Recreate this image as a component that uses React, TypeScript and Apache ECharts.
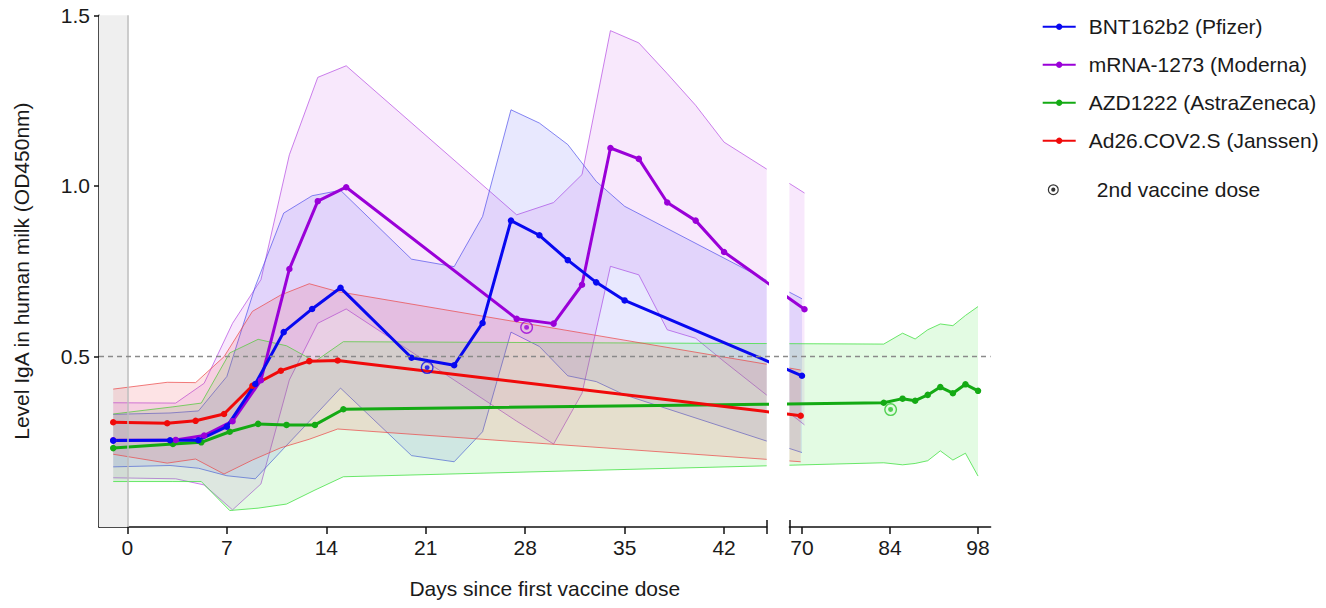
import React, { useEffect, useRef } from 'react';
import * as echarts from 'echarts';

// ---------- data ----------
const xTicksLeft = [0, 7, 14, 21, 28, 35, 42];
const xTicksRight = [70, 84, 98];
const yTicks = [0.5, 1.0, 1.5];

const pfizerDays = [-1, 3, 5, 7, 9, 11, 13, 15, 20, 23, 25, 27, 29, 31, 33, 35, 70];
const pfizerMean = [0.253, 0.254, 0.254, 0.294, 0.419, 0.571, 0.639, 0.701, 0.496, 0.474, 0.598, 0.898, 0.855, 0.782, 0.717, 0.664, 0.443];
const pfizerUpper = [0.33, 0.334, 0.34, 0.441, 0.705, 0.92, 0.971, 0.987, 0.785, 0.763, 0.91, 1.223, 1.184, 1.121, 1.013, 0.94, 0.669];
const pfizerLower = [0.176, 0.18, 0.172, 0.15, 0.141, 0.23, 0.318, 0.407, 0.209, 0.191, 0.279, 0.571, 0.529, 0.443, 0.426, 0.387, 0.218];

const modernaDays = [-1, 3.4, 5.4, 7.4, 9.4, 11.4, 13.4, 15.4, 27.4, 30, 32, 34, 36, 38, 40, 42, 70.4];
const modernaMean = [0.254, 0.255, 0.268, 0.31, 0.43, 0.756, 0.955, 0.996, 0.61, 0.596, 0.71, 1.111, 1.079, 0.951, 0.898, 0.806, 0.638];
const modernaUpper = [0.364, 0.363, 0.421, 0.597, 0.725, 1.091, 1.318, 1.352, 0.915, 0.951, 1.033, 1.455, 1.419, 1.329, 1.236, 1.128, 0.979];
const modernaLower = [0.144, 0.141, 0.123, 0.05, 0.126, 0.431, 0.597, 0.639, 0.31, 0.243, 0.392, 0.764, 0.739, 0.578, 0.553, 0.485, 0.299];

const azDays = [-1, 3.2, 5.2, 7.2, 9.2, 11.2, 13.2, 15.2, 83, 86, 88, 90, 92, 94, 96, 98];
const azMean = [0.231, 0.243, 0.248, 0.279, 0.302, 0.299, 0.299, 0.345, 0.364, 0.376, 0.37, 0.387, 0.41, 0.392, 0.418, 0.399];
const azUpper = [0.331, 0.352, 0.363, 0.51, 0.55, 0.531, 0.485, 0.543, 0.536, 0.568, 0.551, 0.578, 0.595, 0.59, 0.62, 0.646];
const azLower = [0.133, 0.133, 0.133, 0.048, 0.055, 0.067, 0.108, 0.147, 0.188, 0.182, 0.186, 0.194, 0.223, 0.196, 0.216, 0.149];

const janssenDays = [-1, 2.8, 4.8, 6.8, 8.8, 10.8, 12.8, 14.8, 69.8];
const janssenMean = [0.307, 0.304, 0.311, 0.331, 0.414, 0.458, 0.486, 0.488, 0.326];
const janssenUpper = [0.404, 0.424, 0.423, 0.499, 0.632, 0.68, 0.713, 0.69, 0.46];
const janssenLower = [0.213, 0.187, 0.199, 0.155, 0.196, 0.232, 0.257, 0.287, 0.191];

const dose2Keys = ['pfizer', 'moderna', 'az'];
const dose2Days = [21.1, 28.1, 84.1];
const dose2Values = [0.467, 0.585, 0.344];

const thresholdValue = 0.5;

// ---------- styling / layout ----------
const FONT = "'Liberation Sans', Arial, Helvetica, sans-serif";
const TEXT = '#1a1a1a';
const BLUE = '#0808f0';
const PURPLE = '#9a00d8';
const GREEN = '#14aa14';
const RED = '#f00a0a';

const L_MIN = -2, L_MAX = 45, R_MIN = 68, R_MAX = 100;
const GRID_TOP = 15.3, GRID_H = 511.6;
const L_LEFT = 99, L_W = 667.7;
const R_LEFT = 789.4, R_W = 201.2;
const pxL = L_W / (L_MAX - L_MIN);
const pxR = R_W / (R_MAX - R_MIN);
const U_GAP = (R_LEFT - (L_LEFT + L_W)) / pxL;
const uOf = (d: number) => (d <= L_MAX ? d : L_MAX + U_GAP + ((d - R_MIN) * pxR) / pxL);
const dayOf = (u: number) => (u <= L_MAX ? u : R_MIN + ((u - L_MAX - U_GAP) * pxL) / pxR);

const RING = 'path://M12,0A12,12 0 1 1 -12,0A12,12 0 1 1 12,0ZM9.4,0A9.4,9.4 0 1 0 -9.4,0A9.4,9.4 0 1 0 9.4,0ZM4.6,0A4.6,4.6 0 1 1 -4.6,0A4.6,4.6 0 1 1 4.6,0Z';

const vaccines = [
  { key: 'pfizer', name: 'BNT162b2 (Pfizer)', days: pfizerDays, mean: pfizerMean, upper: pfizerUpper, lower: pfizerLower, color: BLUE, fill: 'rgba(90,90,245,0.14)', stroke: 'rgba(70,70,235,0.65)' },
  { key: 'moderna', name: 'mRNA-1273 (Moderna)', days: modernaDays, mean: modernaMean, upper: modernaUpper, lower: modernaLower, color: PURPLE, fill: 'rgba(215,130,240,0.18)', stroke: 'rgba(185,85,228,0.75)' },
  { key: 'az', name: 'AZD1222 (AstraZeneca)', days: azDays, mean: azMean, upper: azUpper, lower: azLower, color: GREEN, fill: 'rgba(70,225,70,0.15)', stroke: 'rgba(70,225,70,0.8)' },
  { key: 'janssen', name: 'Ad26.COV2.S (Janssen)', days: janssenDays, mean: janssenMean, upper: janssenUpper, lower: janssenLower, color: RED, fill: 'rgba(240,70,80,0.15)', stroke: 'rgba(235,70,70,0.7)' },
];

const legendOrder = vaccines.map((v) => v.name);

function bandSeries(v: any, gi: number) {
  return {
    type: 'custom',
    name: v.name + ' band',
    xAxisIndex: gi === 0 ? 0 : 2,
    yAxisIndex: gi,
    silent: true,
    z: 1,
    data: v.days.map((d: number, i: number) => [uOf(d), v.lower[i], v.upper[i]]),
    encode: { x: 0, y: [1, 2] },
    renderItem: (params: any, api: any) => {
      if (params.dataIndex !== 0) return null;
      const up = v.days.map((d: number, i: number) => api.coord([uOf(d), v.upper[i]]));
      const dn = v.days.map((d: number, i: number) => api.coord([uOf(d), v.lower[i]]));
      const cs = params.coordSys;
      const clip = () => ({ type: 'rect', shape: { x: cs.x, y: cs.y, width: cs.width, height: cs.height } });
      return {
        type: 'group',
        children: [
          { type: 'polygon', shape: { points: up.concat(dn.slice().reverse()) }, style: { fill: v.fill, stroke: 'none' }, clipPath: clip() },
          { type: 'polyline', shape: { points: up }, style: { stroke: v.stroke, lineWidth: 1, fill: 'none' }, clipPath: clip() },
          { type: 'polyline', shape: { points: dn }, style: { stroke: v.stroke, lineWidth: 1, fill: 'none' }, clipPath: clip() },
        ],
      };
    },
  };
}

function meanSeries(v: any, gi: number) {
  return {
    type: 'line',
    name: v.name,
    xAxisIndex: gi === 0 ? 0 : 2,
    yAxisIndex: gi,
    data: v.days.map((d: number, i: number) => [uOf(d), v.mean[i]]),
    symbol: 'circle',
    symbolSize: 6.5,
    showSymbol: true,
    showAllSymbol: true,
    clip: true,
    lineStyle: { width: 3, color: v.color },
    itemStyle: { color: v.color },
    emphasis: { disabled: true },
    z: 4,
  };
}

const axisLineStyle = { color: '#111', width: 1.5 };
const labelStyle = { fontSize: 21, color: TEXT, fontFamily: FONT };

function buildOption() {
  const series: any[] = [];
  // grey pre-vaccination band + day-0 line
  series.push({
    type: 'line', name: 'baseline', xAxisIndex: 0, yAxisIndex: 0, data: [], silent: true, z: 0,
    markArea: { silent: true, itemStyle: { color: '#efefef' }, data: [[{ xAxis: L_MIN }, { xAxis: 0 }]] },
    markLine: { silent: true, symbol: ['none', 'none'], label: { show: false }, lineStyle: { color: '#bdbdbd', width: 1.5, type: 'solid' }, data: [{ xAxis: 0 }] },
  });
  // bands
  const bandOrder = [vaccines[1], vaccines[0], vaccines[2], vaccines[3]];
  for (const gi of [0, 1]) for (const v of bandOrder) series.push(bandSeries(v, gi));
  // dashed threshold
  series.push({
    type: 'line', name: 'threshold', xAxisIndex: 4, yAxisIndex: 2, data: [], silent: true, z: 3,
    markLine: { silent: true, symbol: ['none', 'none'], label: { show: false }, lineStyle: { color: '#8a8a8a', width: 1.3, type: [5, 4] }, data: [{ yAxis: thresholdValue }] },
  });
  // mean lines
  const lineOrder = [vaccines[2], vaccines[3], vaccines[1], vaccines[0]];
  for (const gi of [0, 1]) for (const v of lineOrder) series.push(meanSeries(v, gi));
  // 2nd dose markers
  dose2Keys.forEach((k, i) => {
    const v = vaccines.find((x) => x.key === k)!;
    const right = dose2Days[i] > L_MAX;
    series.push({
      type: 'scatter', name: '2nd dose ' + k, xAxisIndex: right ? 2 : 0, yAxisIndex: right ? 1 : 0,
      data: [[uOf(dose2Days[i]), dose2Values[i]]], symbol: RING, symbolSize: 13,
      itemStyle: { color: k === 'az' ? '#2cc52c' : v.color }, z: 6, silent: true,
    });
  });
  series.push({ type: 'scatter', name: '2nd vaccine dose', data: [], xAxisIndex: 0, yAxisIndex: 0, itemStyle: { color: '#000' }, symbol: RING });

  const hiddenY = (gridIndex: number) => ({ type: 'value', gridIndex, min: 0, max: 1.5, show: false });

  return {
    animation: false,
    backgroundColor: '#ffffff',
    textStyle: { fontFamily: FONT },
    grid: [
      { left: L_LEFT, top: GRID_TOP, width: L_W, height: GRID_H },
      { left: R_LEFT, top: GRID_TOP, width: R_W, height: GRID_H },
      { left: L_LEFT, top: GRID_TOP, width: R_LEFT + R_W - L_LEFT, height: GRID_H },
    ],
    xAxis: [
      {
        type: 'value', gridIndex: 0, min: L_MIN, max: L_MAX, position: 'bottom',
        axisLine: { show: true, onZero: false, lineStyle: axisLineStyle },
        axisTick: { show: true, length: 7, lineStyle: axisLineStyle, customValues: [...xTicksLeft, L_MAX] },
        axisLabel: { ...labelStyle, margin: 10, customValues: xTicksLeft },
        splitLine: { show: false },
      },
      {
        type: 'value', gridIndex: 0, min: L_MIN, max: L_MAX, position: 'bottom', offset: 0,
        axisLine: { show: false },
        axisTick: { show: true, inside: true, length: 7, lineStyle: axisLineStyle, customValues: [L_MAX] },
        axisLabel: { show: false }, splitLine: { show: false },
      },
      {
        type: 'value', gridIndex: 1, min: uOf(R_MIN), max: uOf(R_MAX), position: 'bottom',
        axisLine: { show: true, onZero: false, lineStyle: axisLineStyle },
        axisTick: { show: true, length: 7, lineStyle: axisLineStyle, customValues: [uOf(R_MIN), ...xTicksRight.map(uOf)] },
        axisLabel: { ...labelStyle, margin: 10, customValues: xTicksRight.map(uOf), formatter: (val: number) => String(Math.round(dayOf(val))) },
        splitLine: { show: false },
      },
      {
        type: 'value', gridIndex: 1, min: uOf(R_MIN), max: uOf(R_MAX), position: 'bottom', offset: 0,
        axisLine: { show: false },
        axisTick: { show: true, inside: true, length: 7, lineStyle: axisLineStyle, customValues: [uOf(R_MIN)] },
        axisLabel: { show: false }, splitLine: { show: false },
      },
      {
        type: 'value', gridIndex: 2, min: L_MIN, max: uOf(R_MAX), position: 'bottom',
        axisLine: { show: false }, axisTick: { show: false }, axisLabel: { show: false }, splitLine: { show: false },
        name: 'Days since first vaccine dose', nameLocation: 'middle', nameGap: 51,
        nameTextStyle: { fontSize: 21, color: TEXT, fontFamily: FONT },
      },
    ],
    yAxis: [
      {
        type: 'value', gridIndex: 0, min: 0, max: 1.5,
        axisLine: { show: true, onZero: false, lineStyle: axisLineStyle },
        axisTick: { show: true, length: 5, lineStyle: axisLineStyle, customValues: yTicks },
        axisLabel: { ...labelStyle, margin: 9, customValues: yTicks, formatter: (val: number) => val.toFixed(1) },
        splitLine: { show: false },
        name: 'Level IgA in human milk (OD450nm)', nameLocation: 'middle', nameGap: 67,
        nameTextStyle: { fontSize: 21, color: TEXT, fontFamily: FONT },
      },
      hiddenY(1),
      hiddenY(2),
    ],
    legend: [
      {
        data: legendOrder, orient: 'vertical', left: 1036.7, top: 11.2, itemWidth: 33, itemHeight: 8, itemGap: 17,
        selectedMode: false,
        textStyle: { fontSize: 21, color: TEXT, fontFamily: FONT, lineHeight: 21, padding: [0, 0, 0, 8] },
      },
      {
        data: [{ name: '2nd vaccine dose', icon: RING }], orient: 'vertical', left: 1042.8, top: 174.2, itemWidth: 11, itemHeight: 11,
        selectedMode: false, itemStyle: { color: '#000' },
        textStyle: { fontSize: 21, color: TEXT, fontFamily: FONT, lineHeight: 21, padding: [0, 0, 0, 33] },
      },
    ],
    series,
  };
}

export default function App() {
  const ref = useRef<HTMLDivElement>(null);
  useEffect(() => {
    if (!ref.current) return;
    const chart = echarts.init(ref.current, null, { renderer: 'svg' });
    chart.setOption(buildOption() as any);
    return () => chart.dispose();
  }, []);
  return <div ref={ref} style={{ position: 'fixed', left: 0, top: 0, width: 1326, height: 608, background: '#fff' }} />;
}
